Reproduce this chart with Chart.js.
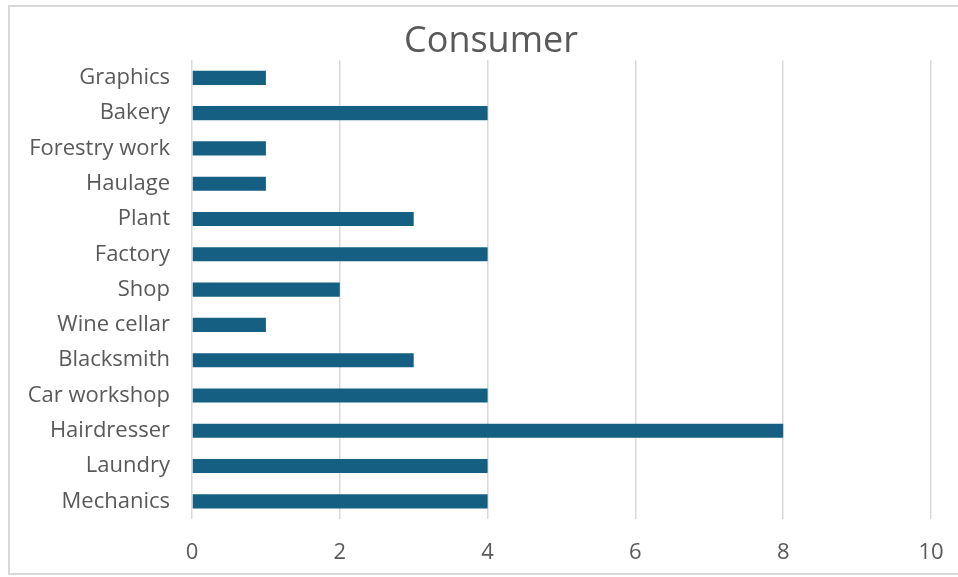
<!DOCTYPE html>
<html>
<head>
<meta charset="utf-8">
<script src="https://cdn.jsdelivr.net/npm/chart.js@4"></script>
<style>
  body { margin: 0; background: #fff; overflow: hidden; }
  #wrap {
    position: absolute; left: 8px; top: 5px;
    width: 962px; height: 566px;
    border: 2px solid #d9d9d9; border-right: none;
  }
</style>
</head>
<body>
<div id="wrap"><canvas id="chart" width="962" height="566"></canvas></div>
<script>
// categories top to bottom
const categories = ['Graphics', 'Bakery', 'Forestry work', 'Haulage', 'Plant', 'Factory', 'Shop',
	'Wine cellar', 'Blacksmith', 'Car workshop', 'Hairdresser', 'Laundry', 'Mechanics'];
const consumerValues = [1, 4, 1, 1, 3, 4, 2, 1, 3, 4, 8, 4, 4];
const xTicks = [0, 2, 4, 6, 8, 10];

const textColor = '#595959';
const fontFamily = '"Open Sans", "Noto Sans", sans-serif';

new Chart(document.getElementById('chart'), {
	type: 'bar',
	data: {
		labels: categories,
		datasets: [{
			label: 'Consumer',
			data: consumerValues,
			backgroundColor: '#156082',
			barPercentage: 0.4,
			categoryPercentage: 1
		}]
	},
	options: {
		indexAxis: 'y',
		responsive: false,
		animation: false,
		layout: { padding: 0 },
		plugins: {
			legend: { display: false },
			tooltip: { enabled: false },
			title: {
				display: true,
				text: 'Consumer',
				color: textColor,
				font: { family: fontFamily, size: 36, weight: 'normal' },
				padding: { top: 13, bottom: -3 }
			}
		},
		scales: {
			x: {
				min: 0,
				max: 10,
				afterBuildTicks: scale => { scale.ticks = xTicks.map(v => ({ value: v })); },
				afterFit: scale => { scale.height = 54; },
				grid: { color: '#d9d9d9', lineWidth: 1.5, drawTicks: false },
				border: { display: false },
				ticks: {
					color: textColor,
					padding: 21,
					font: { family: fontFamily, size: 22 }
				}
			},
			y: {
				afterFit: scale => { scale.width = 182; },
				grid: { display: false },
				border: { display: false },
				ticks: {
					color: textColor,
					padding: 14,
					font: { family: fontFamily, size: 22 }
				}
			},
			// empty right-hand axis, keeps the right margin without shifting the title
			yRight: {
				type: 'category',
				position: 'right',
				afterFit: scale => { scale.width = 41; },
				grid: { display: false },
				border: { display: false },
				ticks: { display: false }
			}
		}
	}
});
</script>
</body>
</html>
